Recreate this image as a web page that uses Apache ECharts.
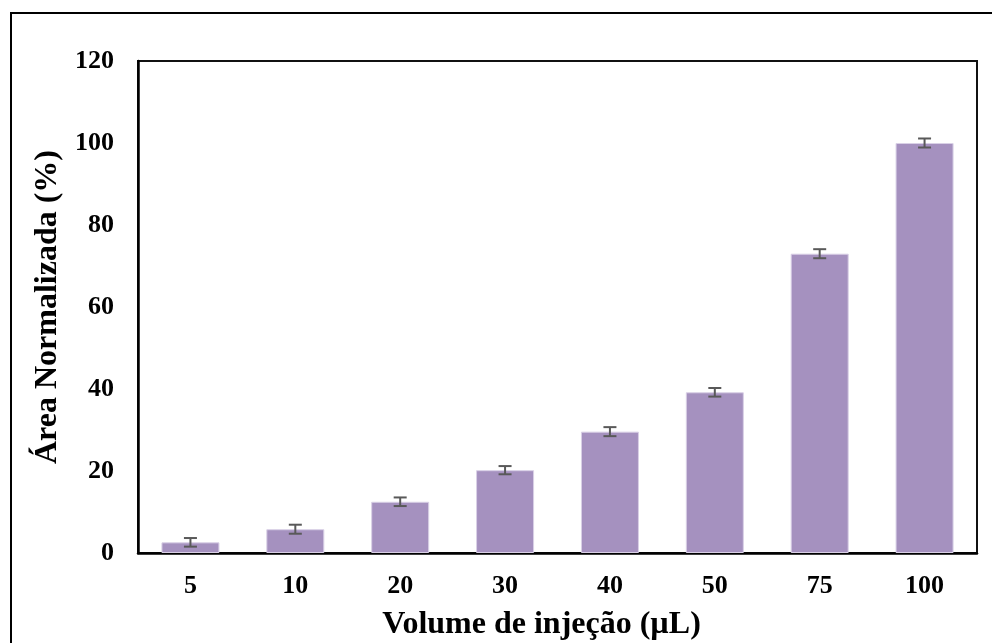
<!DOCTYPE html>
<html>
<head>
<meta charset="utf-8">
<script src="https://cdn.jsdelivr.net/npm/echarts@6/dist/echarts.min.js"></script>
<style>
  html, body { margin: 0; padding: 0; background: #fff; }
  #chart { width: 992px; height: 643px; }
</style>
</head>
<body>
<div id="chart"></div>
<script>
// Injection volumes (µL) and normalised peak area (%)
const volumes = ['5', '10', '20', '30', '40', '50', '75', '100'];
const areaValues = [2.6, 5.8, 12.5, 20.2, 29.6, 39.2, 73.0, 100];
const areaErrors = [1.05, 1.1, 1.05, 1.0, 1.1, 1.05, 1.1, 1.1];
const yTicks = { min: 0, max: 120, interval: 20 };

const FONT = '"Liberation Serif", "Times New Roman", serif';

const errorData = volumes.map((v, i) => [i, areaValues[i] - areaErrors[i], areaValues[i] + areaErrors[i]]);

const chart = echarts.init(document.getElementById('chart'));
chart.setOption({
  animation: false,
  backgroundColor: '#fff',
  graphic: [{
    type: 'rect',
    shape: { x: 11, y: 13, width: 1000, height: 650 },
    style: { fill: 'none', stroke: '#000', lineWidth: 2 },
    z: -10
  }],
  grid: {
    left: 138, right: 15, top: 61, bottom: 90,
    outerBoundsMode: 'none',
    show: true, borderColor: '#111', borderWidth: 2
  },
  xAxis: {
    type: 'category',
    data: volumes,
    name: 'Volume de injeção (µL)',
    nameLocation: 'middle',
    nameGap: 56,
    nameTextStyle: {
      fontFamily: FONT, fontWeight: 'bold', fontSize: 32, color: '#000',
      padding: [0, 32, 0, 0]
    },
    axisLine: { lineStyle: { color: '#000', width: 2.5 } },
    axisTick: { show: false },
    axisLabel: { fontFamily: FONT, fontWeight: 'bold', fontSize: 26, color: '#000', margin: 20 }
  },
  yAxis: {
    type: 'value',
    min: yTicks.min, max: yTicks.max, interval: yTicks.interval,
    name: 'Área Normalizada (%)',
    nameLocation: 'middle',
    nameGap: 74,
    nameTextStyle: { fontFamily: FONT, fontWeight: 'bold', fontSize: 32, color: '#000' },
    axisLine: { show: true, lineStyle: { color: '#000', width: 2.5 } },
    axisTick: { show: false },
    splitLine: { show: false },
    axisLabel: { fontFamily: FONT, fontWeight: 'bold', fontSize: 26, color: '#000', margin: 24 }
  },
  series: [
    {
      type: 'bar',
      data: areaValues,
      barWidth: 58,
      itemStyle: { color: '#A591BF', borderColor: '#D9D0E6', borderWidth: 1 }
    },
    {
      type: 'custom',
      data: errorData,
      z: 10,
      renderItem: function (params, api) {
        const x = api.value(0);
        const lo = api.coord([x, api.value(1)]);
        const hi = api.coord([x, api.value(2)]);
        const cap = 6.5;
        const style = { stroke: '#595959', lineWidth: 2 };
        return {
          type: 'group',
          children: [
            { type: 'line', shape: { x1: lo[0], y1: lo[1], x2: hi[0], y2: hi[1] }, style: style },
            { type: 'line', shape: { x1: lo[0] - cap, y1: lo[1], x2: lo[0] + cap, y2: lo[1] }, style: style },
            { type: 'line', shape: { x1: hi[0] - cap, y1: hi[1], x2: hi[0] + cap, y2: hi[1] }, style: style }
          ]
        };
      }
    }
  ]
});
</script>
</body>
</html>
